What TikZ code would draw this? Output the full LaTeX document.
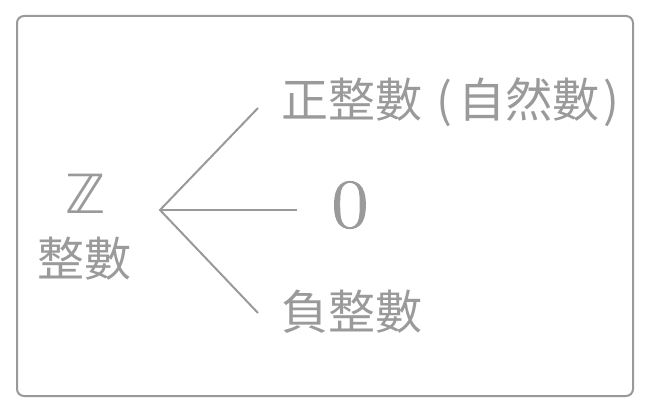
\documentclass[tikz,border=0pt]{standalone}
\usepackage{fontspec}
\newfontfamily\cjk{Noto Sans CJK TC}
\newfontfamily\dejavu{DejaVu Sans}
\newfontfamily\zerofont[FakeBold=1.2]{Latin Modern Roman}
\definecolor{txtgray}{HTML}{9A9A9A}
\definecolor{linegray}{HTML}{999999}
\begin{document}
\begin{tikzpicture}[x=1pt,y=-1pt,
  lbl/.style={text=txtgray, inner sep=0pt, font=\cjk\fontsize{47}{50}\selectfont},
  conn/.style={draw=linegray, line width=2pt}]
\useasboundingbox (0,0) rectangle (653,412);
\draw[draw=linegray, line width=2pt, rounded corners=7pt] (17,16) rectangle (633,396);
\node[text=txtgray, inner sep=0pt, font=\dejavu\fontsize{54}{56}\selectfont] (z) at (86,194) {ℤ};
\node[lbl] (zs) at (84,259) {整數};
\coordinate (root) at (160,210);
\coordinate (e1) at (258,108);
\coordinate (e2) at (297,210);
\coordinate (e3) at (258,313);
\node[lbl, anchor=west] (pos) at (281,102) {正整數\hspace{14pt}(\hspace{6pt}自然數\hspace{4pt})};
\node[text=txtgray, inner sep=0pt, xscale=1.15, font=\zerofont\fontsize{70}{72}\selectfont] (zero) at (350,205) {0};
\node[lbl, anchor=west] (neg) at (281,312) {負整數};
\draw[conn] (e1) -- (root) -- (e3);
\draw[conn] (root) -- (e2);
\end{tikzpicture}
\end{document}
